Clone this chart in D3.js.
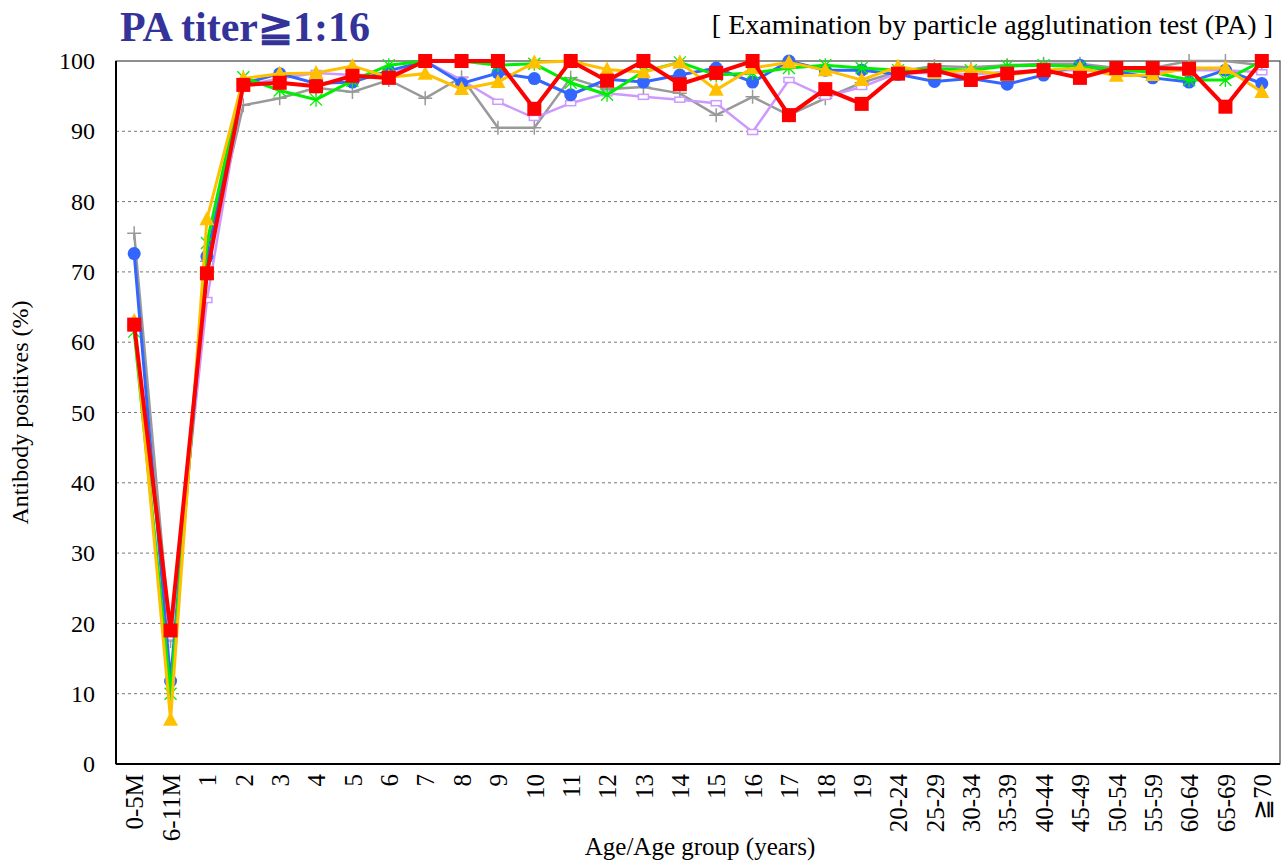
<!DOCTYPE html>
<html>
<head>
<meta charset="utf-8">
<script src="https://cdn.jsdelivr.net/npm/d3@7"></script>
<style>
  body { margin: 0; background: #fff; }
  text { font-family: "Liberation Serif", "DejaVu Serif", serif; }
</style>
</head>
<body>
<script>
// age groups along the x axis
var ages = ["0-5M","6-11M","1","2","3","4","5","6","7","8","9","10","11","12","13","14","15","16","17","18","19",
  "20-24","25-29","30-34","35-39","40-44","45-49","50-54","55-59","60-64","65-69","\u226770"];
var yTicks = [0,10,20,30,40,50,60,70,80,90,100];

// one array per survey year
var grayVals = [75.5,17.5,71.5,93.7,94.7,96.2,95.6,97.3,94.7,97.7,90.5,90.5,97.6,96.0,96.3,95.4,92.3,94.9,92.3,94.7,96.9,
  98.5,99.3,99.1,99.4,99.6,99.6,99.0,99.0,100,100,99.4];
var lavenderVals = [62,18,66,96.5,97.5,98.3,98.0,98.0,100,97.3,94.2,91.9,94.0,95.4,94.9,94.5,94.0,89.9,97.3,94.9,96.3,
  98.3,98.3,98.0,98.5,98.7,98.7,98.5,98.5,98.7,98.7,98.4];
var blueVals = [72.6,11.8,72.2,96.8,98.2,96.8,97.0,98.6,100,96.8,98.3,97.5,95.2,97.4,97.0,98.0,99.0,97.0,100,98.7,98.7,
  98.1,97.1,97.5,96.7,98.0,99.4,98.5,97.6,97.0,98.7,96.8];
var greenVals = [61.5,10,74.1,97.7,95.8,94.5,97.2,99.4,100,100,99.4,99.6,96.9,95.2,98.5,99.8,98.0,98.3,99.0,99.4,99.0,
  98.7,98.9,98.7,99.3,99.4,99.2,98.8,98.4,97.3,97.3,100];
var yellowVals = [63,6.3,77.5,97.5,98.2,98.3,99.3,97.7,98.2,96.0,97.0,99.8,100,98.8,98.4,99.8,95.9,99.0,99.8,98.7,97.3,
  99.2,98.3,98.7,98.0,98.7,99.0,97.9,98.0,99.0,99.0,95.6];
var redVals = [62.5,19,69.8,96.6,96.9,96.4,97.9,97.6,100,100,100,93.2,100,97.2,100,96.7,98.3,100,92.3,96.0,93.9,
  98.2,98.7,97.3,98.2,98.7,97.6,99.0,99.0,98.9,93.5,100];

var W = 1282, H = 864;
var margin = {left: 116, right: 2, top: 61, bottom: 100};

var svg = d3.select("body").append("svg").attr("width", W).attr("height", H);

var x = d3.scalePoint().domain(ages).range([margin.left, W - margin.right]).padding(0.5);
var y = d3.scaleLinear().domain([0, 100]).range([H - margin.bottom, margin.top]);

// grid
svg.append("g").selectAll("line")
  .data(yTicks.filter(function(t){ return t > 0 && t < 100; }))
  .enter().append("line")
  .attr("x1", margin.left).attr("x2", W - margin.right)
  .attr("y1", function(d){ return y(d); }).attr("y2", function(d){ return y(d); })
  .attr("stroke", "#777").attr("stroke-width", 1).attr("stroke-dasharray", "3,3");

// frame
svg.append("rect")
  .attr("x", margin.left).attr("y", margin.top)
  .attr("width", W - margin.right - margin.left).attr("height", y(0) - margin.top)
  .attr("fill", "none").attr("stroke", "#444").attr("stroke-width", 1.2);
svg.append("line").attr("x1", margin.left).attr("x2", margin.left)
  .attr("y1", margin.top).attr("y2", y(0)).attr("stroke", "#000").attr("stroke-width", 2);
svg.append("line").attr("x1", margin.left).attr("x2", W - margin.right)
  .attr("y1", y(0)).attr("y2", y(0)).attr("stroke", "#000").attr("stroke-width", 2);

// y axis
var yAxis = svg.append("g").attr("transform", "translate(" + margin.left + ",0)")
  .call(d3.axisLeft(y).tickValues(yTicks).tickSize(0).tickPadding(21));
yAxis.select(".domain").remove();
yAxis.selectAll("text").style("font-size", "24px").style("fill", "#000")
  .style("font-family", "Liberation Serif");

// x axis
var xAxis = svg.append("g").attr("transform", "translate(0," + y(0) + ")")
  .call(d3.axisBottom(x).tickSize(0));
xAxis.select(".domain").remove();
xAxis.selectAll("text")
  .style("font-size", "25px").style("fill", "#000").style("font-family", "Liberation Serif")
  .attr("text-anchor", "end")
  .attr("transform", "rotate(-90)")
  .attr("x", -10).attr("y", 0).attr("dy", "0.35em");

// titles
svg.append("text").attr("x", 120).attr("y", 41)
  .text("PA titer\u22671:16")
  .style("font-size", "42px").style("font-weight", "bold").style("fill", "#333399");
svg.append("text").attr("x", 1273).attr("y", 34).attr("text-anchor", "end")
  .text("[ Examination by particle agglutination test (PA) ]")
  .style("font-size", "28px").style("fill", "#000");
svg.append("text")
  .attr("transform", "translate(28," + ((margin.top + y(0)) / 2) + ") rotate(-90)")
  .attr("text-anchor", "middle")
  .text("Antibody positives (%)").style("font-size", "24px");
svg.append("text").attr("x", 700).attr("y", 855).attr("text-anchor", "middle")
  .text("Age/Age group (years)").style("font-size", "25px");

var series = [
  {vals: grayVals, color: "#999999", width: 2.5, marker: "plus"},
  {vals: lavenderVals, color: "#cc99ff", width: 2.5, marker: "rect"},
  {vals: blueVals, color: "#3366ff", width: 3, marker: "circle"},
  {vals: greenVals, color: "#00ee00", width: 3, marker: "star"},
  {vals: yellowVals, color: "#ffc000", width: 3, marker: "triangle"},
  {vals: redVals, color: "#ff0000", width: 4, marker: "square"}
];

var line = d3.line()
  .x(function(d, i){ return x(ages[i]); })
  .y(function(d){ return y(d); });

series.forEach(function(s) {
  var g = svg.append("g");
  g.append("path").datum(s.vals)
    .attr("d", line).attr("fill", "none")
    .attr("stroke", s.color).attr("stroke-width", s.width).attr("stroke-linejoin", "miter");

  var pts = g.selectAll("g.pt").data(s.vals).enter().append("g")
    .attr("transform", function(d, i){ return "translate(" + x(ages[i]) + "," + y(d) + ")"; });

  if (s.marker == "circle") {
    pts.append("circle").attr("r", 6.5).attr("fill", s.color);
  } else if (s.marker == "square") {
    pts.append("rect").attr("x", -7).attr("y", -7).attr("width", 14).attr("height", 14).attr("fill", s.color);
  } else if (s.marker == "triangle") {
    pts.append("path").attr("d", "M0,-8L7.5,6L-7.5,6Z").attr("fill", s.color);
  } else if (s.marker == "rect") {
    pts.append("rect").attr("x", -5).attr("y", -2.5).attr("width", 10).attr("height", 5)
      .attr("fill", "#fff").attr("stroke", s.color).attr("stroke-width", 1.5);
  } else if (s.marker == "plus") {
    pts.append("path").attr("d", "M-7,0H7M0,-7V7").attr("stroke", s.color).attr("stroke-width", 1.5);
  } else if (s.marker == "star") {
    pts.append("path").attr("d", "M-6,-6L6,6M-6,6L6,-6M0,-7V7")
      .attr("stroke", s.color).attr("stroke-width", 1.3);
  }
});
</script>
</body>
</html>
